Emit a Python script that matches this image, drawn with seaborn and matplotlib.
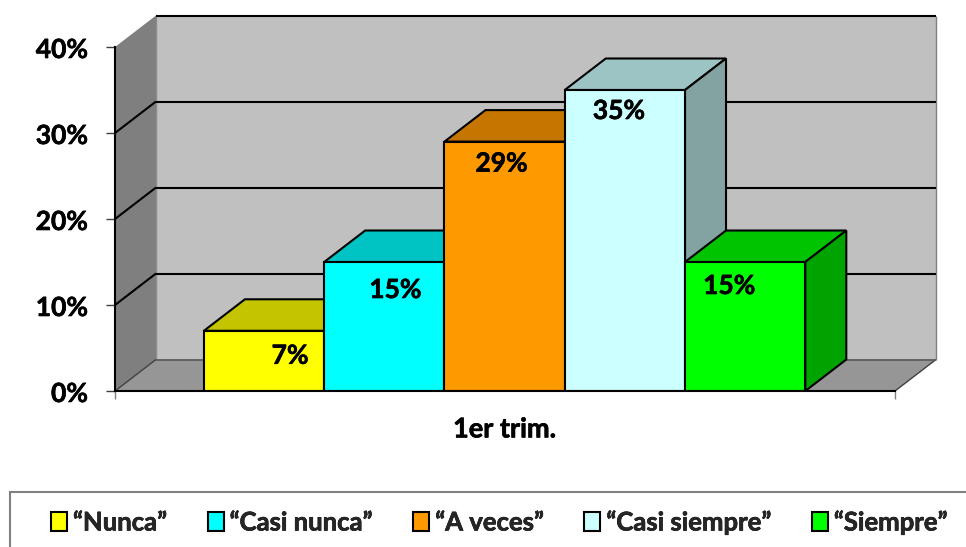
import matplotlib
matplotlib.use("Agg")
import matplotlib.pyplot as plt
import matplotlib.patheffects as pe
from matplotlib.colors import to_rgb
from matplotlib.patches import Polygon, Rectangle
from matplotlib.transforms import ScaledTranslation
import pandas as pd
import seaborn as sns

periods = ["1er trim."]
categories = ["“Nunca”", "“Casi nunca”", "“A veces”", "“Casi siempre”", "“Siempre”"]
values = [7, 15, 29, 35, 15]
colors = ["#FFFF00", "#00FFFF", "#FF9900", "#CCFFFF", "#00FF00"]
y_ticks = [0, 10, 20, 30, 40]
# label offsets from the bar's top centre, in pixels
label_dx = [26, 11, -3, -6, -16]
label_dy = [-25, -28, -22, -21, -24]

W, H = 966, 547
AX_L, AX_R, AX_T, AX_B = 115, 895, 47, 391

sns.set_style("white")
plt.rcParams["font.family"] = ["Lato", "DejaVu Sans"]
WEIGHT = "bold"
plt.rcParams["font.weight"] = WEIGHT
FS = 19
LEG_FS = 18.5
BOLDER = [pe.withStroke(linewidth=0.45, foreground="black")]

df = pd.DataFrame({"period": periods * len(categories), "category": categories, "value": values})

fig = plt.figure(figsize=(W / 100, H / 100), dpi=100, facecolor="white")
ax = fig.add_axes([AX_L / W, 1 - AX_B / H, (AX_R - AX_L) / W, (AX_B - AX_T) / H])
ax.patch.set_alpha(0)

sns.barplot(data=df, x="period", y="value", hue="category", hue_order=categories,
            palette=colors, width=0.771, gap=0, saturation=1,
            edgecolor="black", linewidth=1.5, ax=ax)
ax.set_xlim(-0.4995, 0.5005)
ax.set_ylim(0, 40)

# depth of the 3-D projection in data units
DX = 41 / (AX_R - AX_L)
DY = 31.5 / (AX_B - AX_T) * 40
x0, x1 = ax.get_xlim()
y0, y1 = 0, 40


def poly(pts, fc, ec="none", lw=0, z=0.5):
    ax.add_patch(Polygon(pts, closed=True, facecolor=fc, edgecolor=ec, linewidth=lw,
                         zorder=z, clip_on=False))


def line(xs, ys, c="black", lw=1.5, z=0.8):
    ax.plot(xs, ys, color=c, lw=lw, zorder=z, clip_on=False, solid_capstyle="butt")


# walls and floor
poly([(x0 + DX, y0 + DY), (x1 + DX, y0 + DY), (x1 + DX, y1 + DY), (x0 + DX, y1 + DY)], "#C0C0C0")
poly([(x0, y0), (x0 + DX, y0 + DY), (x0 + DX, y1 + DY), (x0, y1)], "#7F7F7F")
poly([(x0, y0), (x1, y0), (x1 + DX, y0 + DY), (x0 + DX, y0 + DY)], "#969696")
line([x0 + DX, x0 + DX], [y0 + DY, y1 + DY], "#8C8C8C", 1.0)
line([x1 + DX, x1 + DX], [y0 + DY, y1 + DY], "#808080", 1.0)
line([x1, x1 + DX], [y0, y0 + DY], "#404040", 1.0)
line([x0, x0 + DX], [y0, y0 + DY], "#404040", 1.0)
line([x0 + DX, x1 + DX], [y0 + DY, y0 + DY], "#595959", 1.2)
for t in y_ticks[1:]:
    line([x0 + DX, x1 + DX], [t + DY, t + DY])
    if t < y1:
        line([x0, x0 + DX], [t, t + DY])

# bars: side and top faces, then the front drawn by seaborn
bars = [c[0] for c in ax.containers]
for i, (bar, col) in enumerate(zip(bars, colors)):
    base = 3 + i
    bar.set_zorder(base + 0.5)
    l, r, v = bar.get_x(), bar.get_x() + bar.get_width(), bar.get_height()
    rgb = to_rgb(col)
    top = tuple(c * 0.77 for c in rgb)
    side = tuple(c * 0.64 for c in rgb)
    poly([(l, v), (r, v), (r + DX, v + DY), (l + DX, v + DY)], top, "black", 1.5, base)
    poly([(r, 0), (r + DX, DY), (r + DX, v + DY), (r, v)], side, "black", 1.5, base)
    ax.annotate(f"{values[i]}%", xy=((l + r) / 2, v), xycoords="data",
                xytext=(label_dx[i], label_dy[i]), textcoords="offset pixels",
                ha="center", va="center", fontsize=FS, fontweight=WEIGHT,
                color="black", zorder=20, annotation_clip=False, path_effects=BOLDER)

# axes furniture
sns.despine(ax=ax, top=True, right=True)
for s in ("left", "bottom"):
    ax.spines[s].set_color("black")
    ax.spines[s].set_linewidth(1.5)
    ax.spines[s].set_zorder(15)
ax.set_yticks(y_ticks, [f"{t}%" for t in y_ticks])
ax.set_xticks([x0, x1], ["", ""])
ax.set_xticks([0], periods, minor=True)
ax.set_xlabel("")
ax.set_ylabel("")
ax.tick_params(axis="y", left=True, length=6.5, width=1, color="#404040", pad=13,
               labelsize=FS, labelcolor="black")
ax.tick_params(axis="x", which="major", bottom=True, length=6, width=1, color="#808080")
ax.tick_params(axis="x", which="minor", bottom=False, length=0, pad=19,
               labelsize=19.5, labelcolor="black")
shift = ScaledTranslation(0, -1 / 100, fig.dpi_scale_trans)
for lab in ax.get_yticklabels():
    lab.set_transform(lab.get_transform() + shift)
    lab.set_path_effects(BOLDER)
for lab in ax.get_xticklabels(minor=True):
    lab.set_path_effects(BOLDER)

# legend
fig.add_artist(Rectangle((9.5 / W, -20 / H), (W + 20) / W, (547 - 492 + 20) / H,
                         transform=fig.transFigure, facecolor="white",
                         edgecolor="#808080", linewidth=1.5, zorder=0))
handles, labels = ax.get_legend_handles_labels()
if ax.get_legend() is not None:
    ax.get_legend().remove()
px_em = LEG_FS * 100 / 72
leg = fig.legend(handles, labels, ncols=5, frameon=False,
                 loc="center left", bbox_to_anchor=(51 / W, 1 - 522 / H),
                 bbox_transform=fig.transFigure,
                 borderpad=0, borderaxespad=0,
                 handlelength=16 / px_em, handleheight=0.72, handletextpad=6 / px_em,
                 columnspacing=40 / px_em,
                 prop={"size": LEG_FS, "weight": WEIGHT})
leg.set_zorder(5)
for txt in leg.get_texts():
    txt.set_path_effects(BOLDER)

fig.savefig("out.png", dpi=100, facecolor="white")
